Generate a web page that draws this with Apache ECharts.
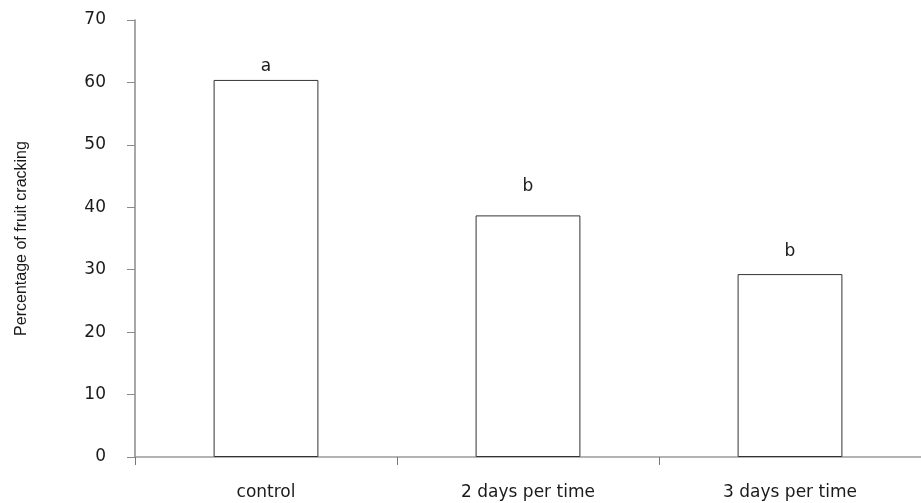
<!DOCTYPE html>
<html>
<head>
<meta charset="utf-8">
<script src="https://cdn.jsdelivr.net/npm/echarts@6/dist/echarts.min.js"></script>
<style>html,body{margin:0;padding:0;background:#fff}#c{width:921px;height:503px}</style>
</head>
<body>
<div id="c"></div>
<script>
var categories = ['control', '2 days per time', '3 days per time'];
var values = [60.4, 38.7, 29.3];
var letters = ['a', 'b', 'b'];
var yTicks = [0, 10, 20, 30, 40, 50, 60, 70];
var letterGaps = [5, 20, 14];

var chart = echarts.init(document.getElementById('c'));
var font = '"DejaVu Sans", Arial, sans-serif';
var nameFont = '"Liberation Sans", Arial, sans-serif';
chart.setOption({
  animation: false,
  backgroundColor: '#ffffff',
  grid: { left: 135, right: 0, top: 20, bottom: 46 },
  xAxis: {
    type: 'category',
    data: categories,
    boundaryGap: true,
    axisLine: { lineStyle: { color: '#9a9a9a', width: 1.5 } },
    axisTick: { show: true, length: 8, inside: false, lineStyle: { color: '#777', width: 1 } },
    axisLabel: { margin: 27, fontFamily: font, fontSize: 17, color: '#1a1a1a' }
  },
  yAxis: {
    type: 'value',
    min: yTicks[0],
    max: yTicks[yTicks.length - 1],
    interval: 10,
    name: 'Percentage of fruit cracking',
    nameLocation: 'middle',
    nameGap: 105,
    nameTextStyle: { fontFamily: nameFont, fontSize: 16, color: '#1a1a1a' },
    axisLine: { show: true, lineStyle: { color: '#8a8a8a', width: 1.5 } },
    axisTick: { show: true, length: 8, lineStyle: { color: '#8a8a8a', width: 1 } },
    splitLine: { show: false },
    axisLabel: { margin: 29, fontFamily: font, fontSize: 17, color: '#1a1a1a' }
  },
  series: [{
    type: 'bar',
    barWidth: '40%',
    data: values.map(function (v, i) {
      return {
        value: v,
        label: {
          show: true, position: 'top', distance: letterGaps[i],
          formatter: letters[i], fontFamily: font, fontSize: 17, color: '#1a1a1a'
        }
      };
    }),
    itemStyle: { color: '#ffffff', borderColor: '#333', borderWidth: 1 }
  }]
});
</script>
</body>
</html>
